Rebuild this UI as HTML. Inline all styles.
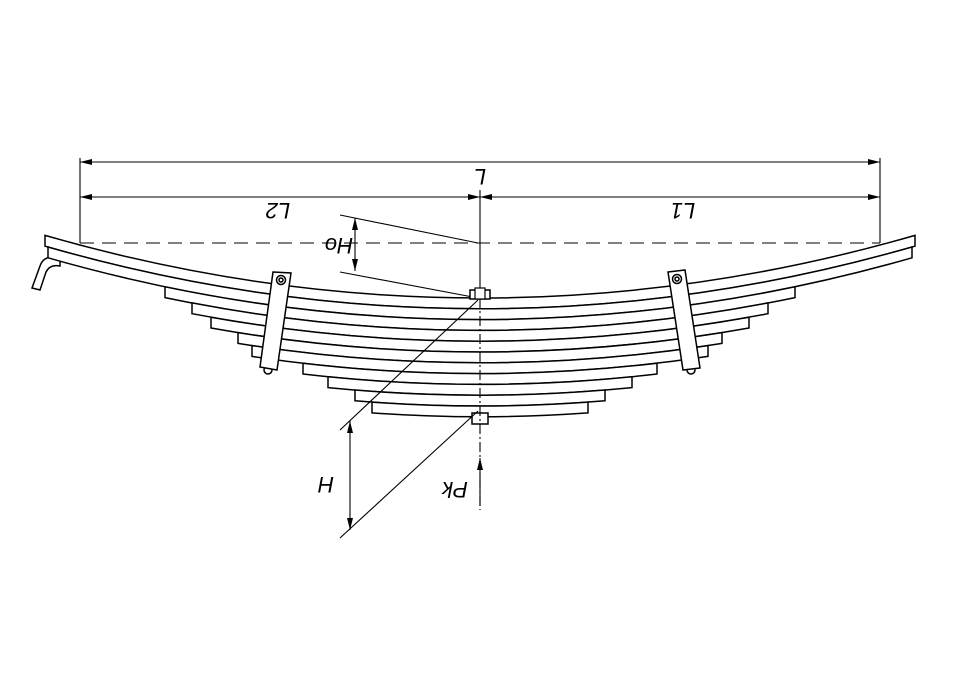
<!DOCTYPE html>
<html><head><meta charset="utf-8"><style>body{margin:0;background:#fff}svg{display:block}</style></head><body>
<svg width="970" height="681" viewBox="0 0 970 681" xmlns="http://www.w3.org/2000/svg" font-family="Liberation Sans, sans-serif">
<defs><marker id="a" viewBox="0 0 12 6" refX="12" refY="3" markerWidth="12" markerHeight="6" orient="auto-start-reverse" markerUnits="userSpaceOnUse"><path d="M0,0L12,3L0,6z" fill="#000"/></marker></defs>
<g stroke="#000" fill="none" stroke-width="1.1">
<line x1="80" y1="162" x2="880" y2="162" marker-start="url(#a)" marker-end="url(#a)"/>
<line x1="80" y1="197" x2="480" y2="197" marker-start="url(#a)" marker-end="url(#a)"/>
<line x1="480" y1="197" x2="880" y2="197" marker-start="url(#a)" marker-end="url(#a)"/>
<line x1="80" y1="158" x2="80" y2="243"/>
<line x1="880" y1="158" x2="880" y2="243"/>
<line x1="480" y1="190" x2="480" y2="298"/>
<line x1="80" y1="243" x2="880" y2="243" stroke-dasharray="14,8"/>
<line x1="340" y1="215" x2="478" y2="243"/>
<line x1="340" y1="272" x2="478" y2="298"/>
<line x1="355" y1="218" x2="355" y2="271" marker-start="url(#a)" marker-end="url(#a)"/>
<line x1="350" y1="421" x2="350" y2="530" marker-start="url(#a)" marker-end="url(#a)"/>
<line x1="480" y1="506" x2="480" y2="458" marker-end="url(#a)"/>
</g>
<g stroke="#000" fill="#fff" stroke-width="1.5">
<path d="M32,288 L40,290 L46,272 Q50,264 60,266 L60,258 Q44,254 40,266 Z"/>
<path d="M45,235.4Q480,360.6 915,235.4L915,246.2Q480,371.4 45,246.2Z"/>
<path d="M48,247Q480,370.6 912,247L912,257.8Q480,381.4 48,257.8Z"/>
<path d="M165,286.8Q480,352.4 795,286.8L795,297.6Q480,363.2 165,297.6Z"/>
<path d="M192,302.9Q480,357.9 768,302.9L768,313.7Q480,368.7 192,313.7Z"/>
<path d="M211,317.2Q480,365.2 749,317.2L749,328Q480,376 211,328Z"/>
<path d="M238,332.6Q480,371.4 722,332.6L722,343.4Q480,382.2 238,343.4Z"/>
<path d="M252,345.6Q480,380 708,345.6L708,356.4Q480,390.8 252,356.4Z"/>
<path d="M303,363.2Q480,384 657,363.2L657,374Q480,394.8 303,374Z"/>
<path d="M328,376.8Q480,392 632,376.8L632,387.6Q480,402.8 328,387.6Z"/>
<path d="M355,390Q480,400.4 605,390L605,400.8Q480,411.2 355,400.8Z"/>
<path d="M372,402.1Q480,409.9 588,402.1L588,412.9Q480,420.7 372,412.9Z"/>
<rect x="472" y="413" width="16" height="11"/>
<circle cx="268" cy="370" r="4"/>
<path d="M273,272L291,273L277,370L260,367Z"/>
<circle cx="281" cy="280" r="4.5"/><circle cx="281" cy="280" r="2"/>
<circle cx="691" cy="370" r="4"/>
<path d="M668,272L685,270L700,368L683,370Z"/>
<circle cx="677" cy="279" r="4.5"/><circle cx="677" cy="279" r="2"/>
</g>
<g stroke="#000" fill="none" stroke-width="1.1">
<line x1="480" y1="298" x2="480" y2="510" stroke-dasharray="10,3,2,3"/>
<line x1="478" y1="300" x2="340" y2="430"/>
<line x1="478" y1="411" x2="340" y2="538"/>
<rect x="470" y="290" width="20" height="9" fill="#fff" stroke-width="1.5"/>
<rect x="475" y="288" width="10" height="11" fill="#fff" stroke-width="1.2"/>
</g>
<g font-size="22" font-style="italic" fill="#000" text-anchor="middle">
<text transform="translate(480,169) rotate(180)">L</text>
<text transform="translate(278,203) rotate(180)">L2</text>
<text transform="translate(683,203) rotate(180)">L1</text>
<text transform="translate(339,238) rotate(180)">Ho</text>
<text transform="translate(326,477) rotate(180)">H</text>
<text transform="translate(455,482) rotate(180)">Pk</text>
</g>
</svg>
</body></html>
